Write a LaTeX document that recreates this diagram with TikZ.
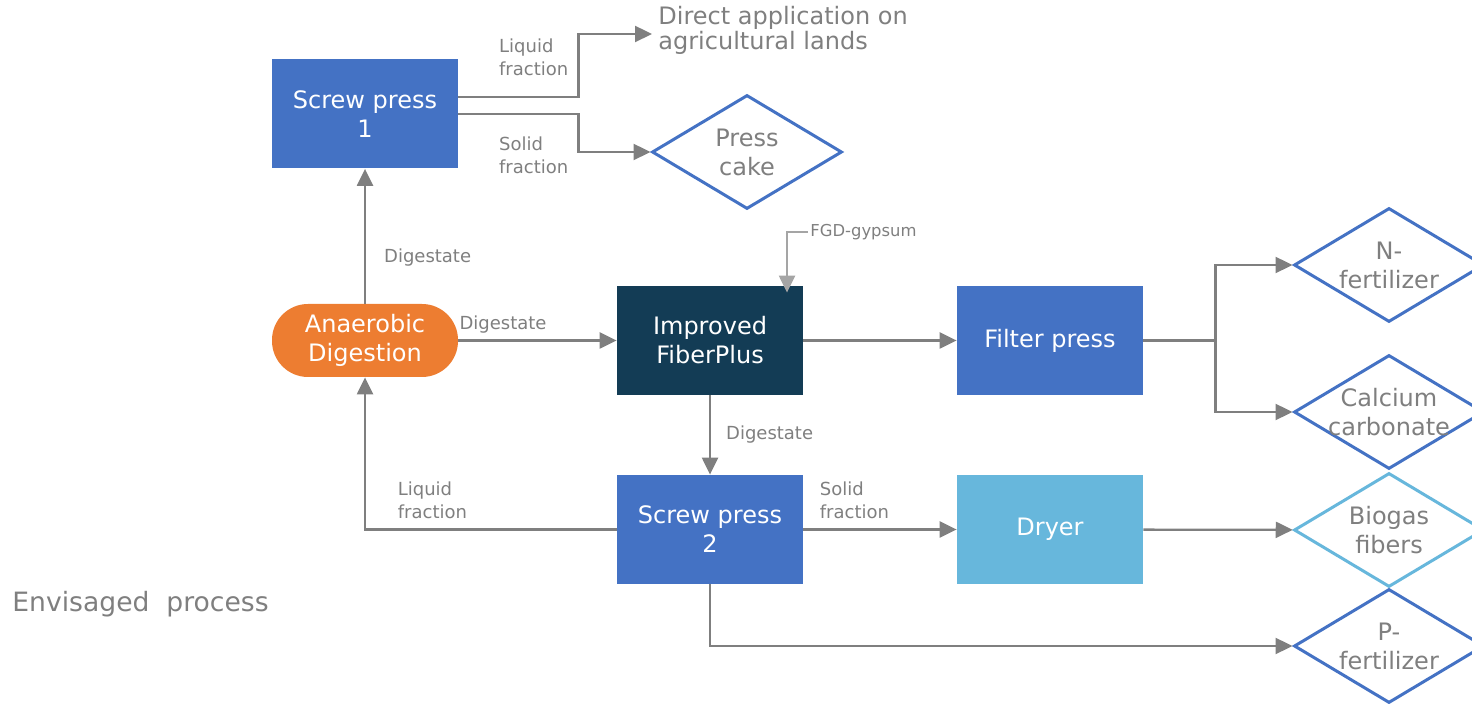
\documentclass[tikz,border=0pt]{standalone}
\usepackage{fontspec}
\setmainfont{DejaVu Sans}
\usepackage{xcolor}
\usetikzlibrary{shapes.geometric,arrows.meta,positioning}
\definecolor{unitblue}{HTML}{4472C4}
\definecolor{digorange}{HTML}{ED7D31}
\definecolor{fiberteal}{HTML}{133C55}
\definecolor{dryerblue}{HTML}{67B7DC}
\definecolor{flowgray}{HTML}{7F7F7F}
\definecolor{feedgray}{HTML}{A5A5A5}

\begin{document}
\begin{tikzpicture}[x=0.5pt,y=-0.5pt,
        unit/.style={rectangle,fill=unitblue,text=white,minimum width=93pt,minimum height=54.5pt,inner sep=0pt,align=center,font=\fontsize{12}{14.5}\selectfont},
        product/.style={diamond,draw=unitblue,line width=1.5pt,fill=white,minimum width=95pt,minimum height=57pt,inner sep=0pt},
        prodtext/.style={text=flowgray,align=center,inner sep=0pt,font=\fontsize{12}{14.5}\selectfont},
        flow/.style={draw=flowgray,line width=1.15pt,-{Triangle[length=8.5pt,width=8pt]}},
        tag/.style={text=flowgray,align=left,inner sep=0pt,font=\fontsize{9}{11.5}\selectfont}]
        \useasboundingbox (0,0) rectangle (1472,704);
        \node[unit] (sp1) at (365,114) {Screw press\\1};
        \node[unit,fill=digorange,rounded corners=18pt,minimum height=36.5pt] (ad) at (365,340.5) {Anaerobic\\Digestion};
        \node[unit,fill=fiberteal] (ifp) at (710,340.5) {Improved\\FiberPlus};
        \node[unit] (flp) at (1050,340.5) {Filter press};
        \node[unit] (sp2) at (710,529.5) {Screw press\\2};
        \node[unit,fill=dryerblue] (dry) at (1050,529.5) {Dryer};
        \node[product] (pc) at (747,152) {};
        \node[product] (nf) at (1389,265) {};
        \node[product] (cc) at (1389,412) {};
        \node[product,draw=dryerblue] (bf) at (1389,530) {};
        \node[product] (pf) at (1389,646) {};
        \node[prodtext] (pct) at (pc) {Press\\cake};
        \node[prodtext] (nft) at (nf) {N-\\fertilizer};
        \node[prodtext] (cct) at (cc) {Calcium\\carbonate};
        \node[prodtext] (bft) at (bf) {Biogas\\fibers};
        \node[prodtext] (pft) at (pf) {P-\\fertilizer};
        \coordinate (da) at (652,34);
        \node[tag,anchor=west,font=\fontsize{12}{12.5}\selectfont] (dal) at ([xshift=3pt,yshift=2pt]da) {Direct application on\\agricultural lands};
        \coordinate (fgd) at (808,232);
        \node[tag,anchor=west,font=\fontsize{8.2}{9}\selectfont] (fgdl) at ([xshift=1pt]fgd) {FGD-gypsum};
        \node[anchor=west,text=flowgray,inner sep=0pt,font=\fontsize{13.3}{15}\selectfont] (env) at (12,604) {Envisaged\ \ process};
        \draw[flow] ([yshift=8.5pt]sp1.east) -- node[tag,pos=0.33,anchor=south west,yshift=10pt]{Liquid\\fraction} ++(120,0) |- (da);
        \draw[flow] (sp1.east) -- node[tag,pos=0.33,anchor=north west,yshift=-11pt]{Solid\\fraction} ++(120,0) |- (pc.west);
        \draw[flow] (ad) -- node[tag,pos=0.37,anchor=west,xshift=9pt,yshift=-2pt]{Digestate} (sp1);
        \draw[flow] (ad) -- node[tag,pos=0,anchor=south west,yshift=3pt]{Digestate} (ifp);
        \draw[flow,draw=feedgray,shorten >=-3.5pt] (fgd) -| ([xshift=38.5pt]ifp.north);
        \draw[flow] (ifp) -- (flp);
        \draw[flow] (flp.east) -- ++(72,0) |- (nf.west);
        \draw[flow] (flp.east) -- ++(72,0) |- (cc.west);
        \draw[flow] (ifp) -- node[tag,anchor=west,xshift=7.5pt]{Digestate} (sp2);
        \draw[flow] (sp2.west) -| node[tag,pos=0.437,anchor=south west,yshift=5pt]{Liquid\\fraction} (ad.south);
        \draw[flow] (sp2) -- node[tag,pos=0.1,anchor=south west,yshift=5pt]{Solid\\fraction} (dry);
        \draw[flow] (dry) -- (bf);
        \draw[flow] (sp2.south) |- (pf.west);
    \end{tikzpicture}
\end{document}
